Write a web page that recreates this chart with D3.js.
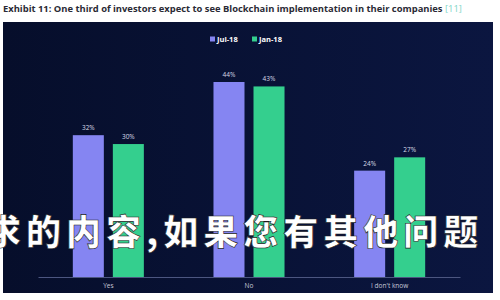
<!DOCTYPE html>
<html>
<head>
<meta charset="utf-8">
<script src="https://cdn.jsdelivr.net/npm/d3@7"></script>
<style>
  body { margin: 0; background: #ffffff; }
  svg { display: block; }
</style>
</head>
<body>
<div id="chart"></div>
<script>
// data
let categories = ["Yes", "No", "I don't know"];
let seriesNames = ["Jul-18", "Jan-18"];
let jul18 = [32, 44, 24];
let jan18 = [30, 43, 27];
let seriesColors = ["#8585f2", "#34cf8e"];
let titleText = "Exhibit 11: One third of investors expect to see Blockchain implementation in their companies";
let titleRef = "[11]";
let overlayText = "求的内容,如果您有其他问题";

let width = 500, height = 300;

let svg = d3.select("#chart")
    .append("svg")
    .attr("width", width)
    .attr("height", height);

svg.append("rect")
    .attr("width", width)
    .attr("height", height)
    .attr("fill", "#ffffff");

// title
let title = svg.append("text")
    .attr("x", 3)
    .attr("y", 12)
    .style("font-family", "Open Sans, sans-serif")
    .style("font-weight", "bold")
    .style("font-size", "9.4px")
    .attr("fill", "#2a2a35");
title.append("tspan").text(titleText + " ");
title.append("tspan").attr("fill", "#7fd6c8").style("font-weight", "normal").text(titleRef);

// dark panel
let panel = { left: 3, top: 22, right: 493, bottom: 293 };
let grad = svg.append("defs").append("linearGradient")
    .attr("id", "bg")
    .attr("x1", "0").attr("x2", "1").attr("y1", "0").attr("y2", "0");
grad.append("stop").attr("offset", "0").attr("stop-color", "#060e2b");
grad.append("stop").attr("offset", "1").attr("stop-color", "#0b1640");

svg.append("rect")
    .attr("x", panel.left)
    .attr("y", panel.top)
    .attr("width", panel.right - panel.left)
    .attr("height", panel.bottom - panel.top)
    .attr("fill", "url(#bg)");

// scales
let x0 = d3.scaleBand()
    .domain(categories)
    .range([38, 460])
    .paddingInner(0.495)
    .paddingOuter(0.2475);

let x1 = d3.scaleBand()
    .domain(seriesNames)
    .range([0, x0.bandwidth()])
    .paddingInner(0.225);

let y = d3.scaleLinear()
    .domain([0, 44])
    .range([277, 82]);

let color = d3.scaleOrdinal().domain(seriesNames).range(seriesColors);

let rows = categories.map(function(c, i) {
    return { cat: c, values: [
        { name: "Jul-18", value: jul18[i] },
        { name: "Jan-18", value: jan18[i] }
    ]};
});

let groups = svg.append("g").selectAll("g")
    .data(rows)
    .enter()
    .append("g")
    .attr("transform", function(d) { return "translate(" + x0(d.cat) + ",0)"; });

groups.selectAll("rect")
    .data(function(d) { return d.values; })
    .enter()
    .append("rect")
    .attr("x", function(d) { return x1(d.name); })
    .attr("y", function(d) { return y(d.value); })
    .attr("width", x1.bandwidth())
    .attr("height", function(d) { return y(0) - y(d.value); })
    .attr("fill", function(d) { return color(d.name); });

groups.selectAll("text")
    .data(function(d) { return d.values; })
    .enter()
    .append("text")
    .attr("x", function(d) { return x1(d.name) + x1.bandwidth() / 2; })
    .attr("y", function(d) { return y(d.value) - 5; })
    .style("text-anchor", "middle")
    .style("font-family", "Open Sans, sans-serif")
    .style("font-size", "6.5px")
    .attr("fill", "#d8dae6")
    .text(function(d) { return d.value + "%"; });

// x axis
let xAxis = svg.append("g")
    .attr("transform", "translate(0," + y(0) + ")")
    .call(d3.axisBottom(x0).tickSize(0).tickPadding(6));
xAxis.select(".domain").attr("stroke", "#4c5680").attr("stroke-width", 1);
xAxis.selectAll("text")
    .style("font-family", "Open Sans, sans-serif")
    .style("font-size", "6.5px")
    .attr("fill", "#c8cad8");

// legend
let legend = svg.append("g")
    .attr("transform", "translate(210,39)");
let legendItems = legend.selectAll("g")
    .data(seriesNames)
    .enter()
    .append("g")
    .attr("transform", function(d, i) { return "translate(" + (i * 42) + ",0)"; });
legendItems.append("rect")
    .attr("x", 0)
    .attr("y", -2.5)
    .attr("width", 5)
    .attr("height", 5)
    .attr("fill", function(d) { return color(d); });
legendItems.append("text")
    .attr("x", 7)
    .attr("y", 2.8)
    .style("font-family", "Open Sans, sans-serif")
    .style("font-weight", "bold")
    .style("font-size", "7.5px")
    .attr("fill", "#ffffff")
    .text(function(d) { return d; });

// overlay caption (cut at the left edge as in the picture)
svg.append("text")
    .attr("x", -14)
    .attr("y", 245)
    .style("font-family", "Noto Sans CJK SC")
    .style("font-weight", "900")
    .style("font-size", "35px")
    .style("letter-spacing", "5px")
    .attr("fill", "#ffffff")
    .attr("stroke", "#1a1a1a")
    .attr("stroke-width", 0.6)
    .text(overlayText);
</script>
</body>
</html>
